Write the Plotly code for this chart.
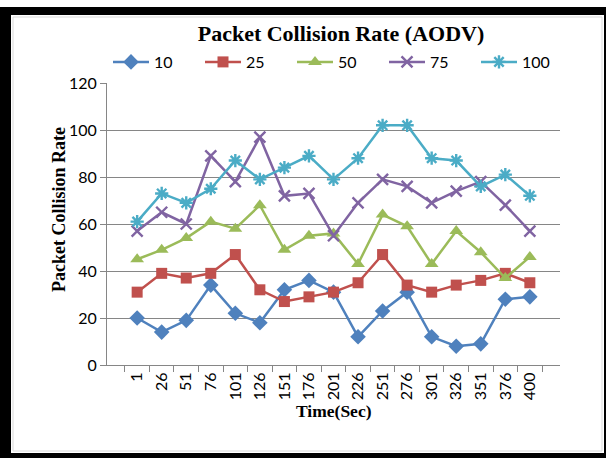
import plotly.graph_objects as go

W, H = 606, 458

time_labels = ["1", "26", "51", "76", "101", "126", "151", "176", "201",
               "226", "251", "276", "301", "326", "351", "376", "400"]

rate_10 = [20, 14, 19, 34, 22, 18, 32, 36, 31, 12, 23, 31, 12, 8, 9, 28, 29]
rate_25 = [31, 39, 37, 39, 47, 32, 27, 29, 31, 35, 47, 34, 31, 34, 36, 39, 35]
rate_50 = [45, 49, 54, 61, 58, 68, 49, 55, 56, 43, 64, 59, 43, 57, 48, 37, 46]
rate_75 = [57, 65, 60, 89, 78, 97, 72, 73, 55, 69, 79, 76, 69, 74, 78, 68, 57]
rate_100 = [61, 73, 69, 75, 87, 79, 84, 89, 79, 88, 102, 102, 88, 87, 76, 81, 72]

y_ticks = [0, 20, 40, 60, 80, 100, 120]

series = [
    ("10", rate_10, "#4F81BD", dict(symbol="diamond", size=12)),
    ("25", rate_25, "#C0504D", dict(symbol="square", size=11)),
    ("50", rate_50, "#9BBB59", dict(symbol="triangle-up", size=12)),
    ("75", rate_75, "#8064A2", dict(symbol="x-thin", size=11)),
    ("100", rate_100, "#4BACC6", dict(symbol="asterisk", size=11)),
]

# plot area in pixels
L, R, T, B = 107, 560, 83, 365
ml, mr, mt, mb = L, W - R, T, H - B


def px_x(px):
    return (px - L) / (R - L)


def px_y(py):
    return (B - py) / (B - T)


fig = go.Figure()
for name, vals, color, mk in series:
    line_marker = dict(color=color, **mk)
    if mk["symbol"] in ("x-thin", "asterisk"):
        line_marker["line"] = dict(color=color, width=2.4)
    else:
        line_marker["line"] = dict(width=0)
    fig.add_trace(go.Scatter(
        x=time_labels, y=vals, name=name, mode="lines+markers",
        line=dict(color=color, width=2.5),
        marker=line_marker,
    ))

sans = "Lato, Open Sans, sans-serif"
serif = "Liberation Serif, Times New Roman, serif"

shapes = []
# black frame around the chart
for x0, y0, x1, y1 in [(0, 7, W, 15), (0, 7, 11, H), (0, 453, W, H), (604, 7, W, H)]:
    shapes.append(dict(type="rect", xref="paper", yref="paper",
                       x0=px_x(x0), x1=px_x(x1), y0=px_y(y0), y1=px_y(y1),
                       fillcolor="black", line=dict(width=0), layer="above"))
shapes.append(dict(type="rect", xref="paper", yref="paper",
                   x0=px_x(13), x1=px_x(602), y0=px_y(17), y1=px_y(451),
                   fillcolor="rgba(0,0,0,0)", line=dict(color="#d9d9d9", width=1)))

fig.update_layout(
    width=W, height=H,
    margin=dict(l=ml, r=mr, t=mt, b=mb, pad=0, autoexpand=False),
    paper_bgcolor="white", plot_bgcolor="white",
    font=dict(family=sans, size=16, color="#000000"),
    title=dict(text="<b>Packet Collision Rate (AODV)</b>", x=341 / W,
               xref="container", xanchor="center", y=1 - 33 / H, yanchor="middle",
               font=dict(family=serif, size=22, color="#000000")),
    showlegend=True,
    legend=dict(orientation="h", x=px_x(568), xanchor="right",
                y=px_y(62), yanchor="middle",
                font=dict(size=16), entrywidth=41, entrywidthmode="pixels",
                itemwidth=36, bgcolor="rgba(0,0,0,0)"),
    xaxis=dict(type="category", tickson="boundaries", ticks="outside",
               ticklen=6, tickcolor="#868686", tickangle=-90,
               showline=True, linecolor="#868686", linewidth=1,
               showgrid=False, tickfont=dict(size=16)),
    yaxis=dict(range=[0, 120], tickvals=y_ticks, ticks="outside", ticklen=6,
               tickcolor="#868686", showline=True, linecolor="#868686",
               linewidth=1, showgrid=True, gridcolor="#868686", gridwidth=1,
               zeroline=False, tickfont=dict(size=16)),
    shapes=shapes,
    annotations=[
        dict(text="<b>Time(Sec)</b>", xref="paper", yref="paper",
             x=px_x(334), y=px_y(423), showarrow=False,
             font=dict(family=serif, size=17.5)),
        dict(text="<b>Packet Collision Rate</b>", xref="paper", yref="paper",
             x=px_x(47), y=px_y(210), textangle=-90, showarrow=False,
             font=dict(family=serif, size=18)),
    ],
)

fig.write_html("out.html")
